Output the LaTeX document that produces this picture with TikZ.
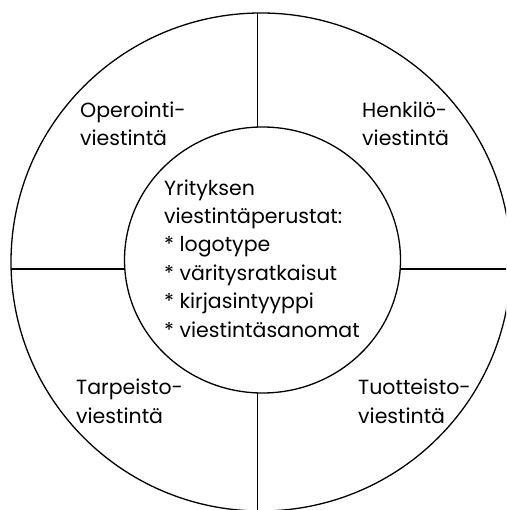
\documentclass[tikz,border=0pt]{standalone}
\usepackage{fontspec}
\setmainfont{Poppins}
\begin{document}
\begin{tikzpicture}[x=1pt,y=1pt,
  ring/.style={line width=1.3pt, black},
  divider/.style={line width=1.3pt, black},
  lbl/.style={anchor=base west, inner sep=0pt, align=left,
    font=\fontsize{20.5}{28.4}\selectfont, text=black}]
\useasboundingbox (0,0) rectangle (506,-510);
\clip (0,0) rectangle (506,-510);
% circles
\draw[ring] (261,-262) ellipse [x radius=250, y radius=249];
\draw[ring] (262.5,-260) ellipse [x radius=138, y radius=133];
% divider end points
\coordinate (otop) at (257.7,-13);
\coordinate (itop) at (257.7,-127.1);
\coordinate (ibot) at (257.3,-392.9);
\coordinate (obot) at (257.3,-512);
\coordinate (oleft) at (11.1,-269);
\coordinate (ileft) at (124.8,-269);
\coordinate (iright) at (400.2,-269);
\coordinate (oright) at (512,-269);
\draw[divider] (otop) -- (itop);
\draw[divider] (ibot) -- (obot);
\draw[divider] (oleft) -- (ileft);
\draw[divider] (iright) -- (oright);
% labels (base anchor = baseline of last line)
\node[lbl] (op) at (80,-146) {Operointi-\\viestintä};
\node[lbl] (he) at (362,-146) {Henkilö-\\viestintä};
\node[lbl] (ta) at (76,-423) {Tarpeisto-\\viestintä};
\node[lbl] (tu) at (358,-423) {Tuotteisto-\\viestintä};
\node[lbl] (core) at (164,-337) {Yrityksen\\viestintäperustat:\\* logotype\\* väritysratkaisut\\* kirjasintyyppi\\* viestintäsanomat};
\end{tikzpicture}
\end{document}
